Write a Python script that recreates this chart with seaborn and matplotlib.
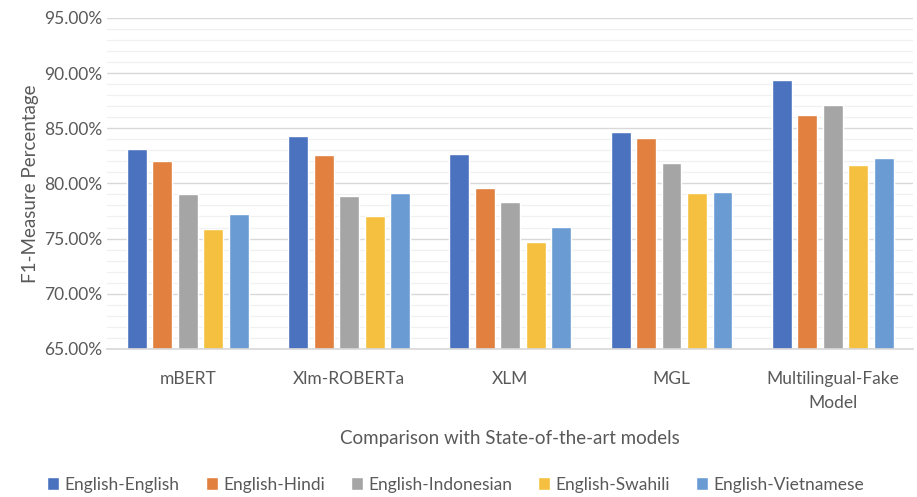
import matplotlib
matplotlib.use("Agg")
import matplotlib.pyplot as plt
from matplotlib.ticker import MultipleLocator, PercentFormatter
import seaborn as sns
import pandas as pd

# data
models = ["mBERT", "Xlm-ROBERTa", "XLM", "MGL", "Multilingual-Fake\nModel"]
pairs = ["English-English", "English-Hindi", "English-Indonesian",
         "English-Swahili", "English-Vietnamese"]
eng_eng = [83.16, 84.28, 82.70, 84.64, 89.36]
eng_hin = [82.07, 82.53, 79.57, 84.13, 86.19]
eng_ind = [79.08, 78.90, 78.33, 81.83, 87.12]
eng_swa = [75.90, 77.06, 74.67, 79.14, 81.71]
eng_vie = [77.24, 79.14, 76.03, 79.20, 82.28]

colors = ["#4a72bf", "#e1803f", "#a5a5a5", "#f5c040", "#6a9cd3"]

series = [eng_eng, eng_hin, eng_ind, eng_swa, eng_vie]
rows = []
for pair, vals in zip(pairs, series):
    for m, v in zip(models, vals):
        rows.append({"model": m, "pair": pair, "f1": v})
df = pd.DataFrame(rows)

sns.set_theme(style="white")
plt.rcParams["font.family"] = ["Lato", "DejaVu Sans"]

fig, ax = plt.subplots(figsize=(9.17, 4.97), dpi=100)
fig.subplots_adjust(left=0.117, right=0.996, top=0.964, bottom=0.298)

sns.barplot(data=df, x="model", y="f1", hue="pair", order=models,
            hue_order=pairs, palette=colors, width=0.79, gap=0.22,
            saturation=1, ax=ax, legend=True)

ax.set_ylim(65, 95)
ax.set_xlim(-0.5, 4.5)
ax.yaxis.set_major_locator(MultipleLocator(5))
ax.yaxis.set_minor_locator(MultipleLocator(1))
ax.yaxis.set_major_formatter(PercentFormatter(decimals=2))
ax.grid(axis="y", which="major", color="#d9d9d9", linewidth=1.0)
ax.grid(axis="y", which="minor", color="#f0f0f0", linewidth=0.9)
ax.set_axisbelow(True)
for s in ["top", "right", "left"]:
    ax.spines[s].set_visible(False)
ax.spines["bottom"].set_color("#d9d9d9")
ax.tick_params(axis="both", which="both", length=0, labelsize=12.5,
               labelcolor="#595959")
ax.tick_params(axis="x", pad=16)
for t in ax.get_xticklabels():
    t.set_linespacing(1.6)

ax.set_ylabel("F1-Measure Percentage", fontsize=13.5, color="#595959")
ax.set_xlabel("Comparison with State-of-the-art models", fontsize=13.5,
              color="#595959", labelpad=14)

handles, labels = ax.get_legend_handles_labels()
ax.get_legend().remove()
fig.legend(handles, labels, loc="center", bbox_to_anchor=(0.497, 0.025),
           ncol=5, frameon=False, fontsize=12.5, handlelength=0.7,
           handleheight=0.7, handletextpad=0.3, columnspacing=1.5,
           labelcolor="#595959")

fig.savefig("out.png", dpi=100)
